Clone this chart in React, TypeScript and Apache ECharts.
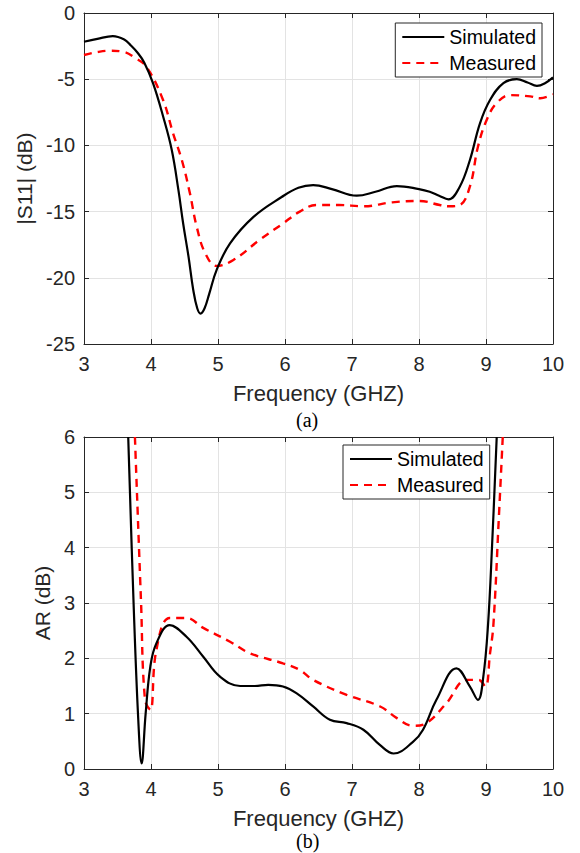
import React, { useEffect, useRef } from "react";
import * as echarts from "echarts";

// (a) |S11|
const s11SimFreq = [3, 3.2, 3.43, 3.6, 3.7, 3.8, 3.9, 4.03, 4.18, 4.31, 4.41, 4.48, 4.56, 4.63, 4.69, 4.74, 4.8, 4.87, 4.98, 5.18, 5.53, 5.95, 6.2, 6.42, 6.7, 7.07, 7.35, 7.67, 8.0, 8.16, 8.3, 8.44, 8.61, 8.76, 8.91, 9.06, 9.26, 9.46, 9.62, 9.76, 9.88, 10];
const s11SimVal = [-2.17, -1.95, -1.74, -2.0, -2.45, -3.0, -3.75, -5.3, -7.8, -10.35, -13.4, -15.9, -18.4, -20.9, -22.3, -22.7, -22.3, -21.2, -19.4, -17.4, -15.4, -13.9, -13.2, -13.0, -13.3, -13.8, -13.5, -13.07, -13.3, -13.5, -13.8, -14.07, -13.1, -11.1, -8.33, -6.57, -5.3, -5.0, -5.25, -5.5, -5.3, -4.86];
const s11MeasFreq = [3, 3.2, 3.39, 3.6, 3.75, 3.93, 4.18, 4.33, 4.46, 4.58, 4.68, 4.81, 4.98, 5.23, 5.63, 5.97, 6.22, 6.47, 6.8, 7.17, 7.6, 8.01, 8.31, 8.45, 8.61, 8.76, 8.88, 9.01, 9.16, 9.36, 9.66, 9.81, 10];
const s11MeasVal = [-3.17, -2.95, -2.85, -2.95, -3.35, -4.05, -6.57, -9.1, -11.1, -13.6, -16.1, -18.15, -19.1, -18.66, -17.1, -15.9, -15.0, -14.5, -14.5, -14.6, -14.3, -14.2, -14.5, -14.6, -14.5, -13.1, -10.1, -8.08, -6.8, -6.2, -6.3, -6.44, -6.14];

// (b) AR
const arSimFreq = [3.66, 3.74, 3.81, 3.86, 3.92, 3.99, 4.08, 4.28, 4.53, 4.78, 5.03, 5.33, 5.55, 5.75, 5.97, 6.17, 6.42, 6.67, 6.92, 7.17, 7.42, 7.62, 7.91, 8.06, 8.26, 8.56, 8.76, 8.88, 8.96, 9.03, 9.09, 9.16];
const arSimVal = [6, 3.0, 0.89, 0.1, 1.0, 1.85, 2.27, 2.6, 2.39, 2.03, 1.67, 1.5, 1.5, 1.52, 1.49, 1.37, 1.13, 0.89, 0.83, 0.71, 0.43, 0.28, 0.49, 0.71, 1.25, 1.82, 1.49, 1.25, 1.67, 2.6, 4.02, 6];
const arMeasFreq = [3.76, 3.85, 3.91, 3.99, 4.08, 4.28, 4.53, 4.78, 5.18, 5.48, 5.97, 6.22, 6.42, 6.92, 7.42, 7.67, 7.91, 8.11, 8.41, 8.71, 8.89, 8.99, 9.06, 9.11, 9.19, 9.25];
const arMeasVal = [6, 3.06, 1.25, 1.07, 2.15, 2.73, 2.73, 2.55, 2.3, 2.09, 1.91, 1.79, 1.61, 1.34, 1.13, 0.92, 0.78, 0.83, 1.19, 1.61, 1.61, 1.49, 2.09, 2.6, 4.5, 6];

const xTicks = { min: 3, max: 10, interval: 1 };
const s11Ticks = { min: -25, max: 0, interval: 5 };
const arTicks = { min: 0, max: 6, interval: 1 };

const pair = (xs: number[], ys: number[]) => xs.map((x, i) => [x, ys[i]]);

const TXT = "#262626";
const FONT = "Liberation Sans";

export default function App() {
  const ref = useRef<HTMLDivElement>(null);
  useEffect(() => {
    document.body.style.margin = "0";
    const chart = echarts.init(ref.current!, null, { renderer: "svg" });
    const grids = [
      { left: 84, top: 13, width: 469, height: 331 },
      { left: 84, top: 437, width: 469, height: 332 },
    ];
    const mkX = (gi: number, pos: "bottom" | "top") => ({
      type: "value",
      gridIndex: gi,
      position: pos,
      ...xTicks,
      axisLine: { show: true, onZero: false, lineStyle: { color: TXT, width: 1 } },
      axisTick: { show: true, inside: true, length: 5, lineStyle: { color: TXT } },
      axisLabel: pos === "bottom" ? { show: true, color: TXT, fontSize: 20, fontFamily: FONT, margin: 10 } : { show: false },
      splitLine: { show: pos === "bottom", lineStyle: { color: "#e3e3e3", width: 1 } },
      name: pos === "bottom" ? "Frequency (GHZ)" : "",
      nameLocation: "middle",
      nameGap: 38,
      nameTextStyle: { color: TXT, fontSize: 22, fontFamily: FONT },
    });
    const mkY = (gi: number, pos: "left" | "right", ticks: any, name: string, gap: number) => ({
      type: "value",
      gridIndex: gi,
      position: pos,
      ...ticks,
      axisLine: { show: true, onZero: false, lineStyle: { color: TXT, width: 1 } },
      axisTick: { show: true, inside: true, length: 5, lineStyle: { color: TXT } },
      axisLabel: pos === "left" ? { show: true, color: TXT, fontSize: 20, fontFamily: FONT, margin: 9 } : { show: false },
      splitLine: { show: pos === "left", lineStyle: { color: "#e3e3e3", width: 1 } },
      name: pos === "left" ? name : "",
      nameLocation: "middle",
      nameGap: gap,
      nameTextStyle: { color: TXT, fontSize: 21, fontFamily: FONT },
    });
    const simStyle = { color: "#000000", width: 2.2, type: "solid" };
    const measStyle = { color: "#ff0000", width: 2.4, type: [8, 6] };
    const mkSeries = (name: string, xi: number, yi: number, data: number[][], ls: any) => ({
      name,
      type: "line",
      xAxisIndex: xi,
      yAxisIndex: yi,
      data,
      smooth: 0.4,
      symbol: "none",
      showSymbol: false,
      clip: true,
      lineStyle: ls,
      itemStyle: { color: ls.color },
      z: name === "Simulated" ? 3 : 2,
    });
    const legendBase = {
      orient: "vertical",
      selectedMode: false,
      data: ["Simulated", "Measured"],
      itemWidth: 42,
      itemHeight: 14,
      itemGap: 6,
      itemStyle: { opacity: 0 },
      backgroundColor: "#ffffff",
      borderColor: "#262626",
      borderWidth: 1,
      borderRadius: 0,
      padding: [4, 6, 4, 6],
      textStyle: { color: "#000", fontSize: 19.5, fontFamily: FONT },
    };
    chart.setOption({
      animation: false,
      backgroundColor: "#ffffff",
      grid: grids.map((g) => ({ ...g, show: false, containLabel: false })),
      xAxis: [mkX(0, "bottom"), mkX(0, "top"), mkX(1, "bottom"), mkX(1, "top")],
      yAxis: [
        mkY(0, "left", s11Ticks, "|S11| (dB)", 45),
        mkY(0, "right", s11Ticks, "", 0),
        mkY(1, "left", arTicks, "AR (dB)", 24),
        mkY(1, "right", arTicks, "", 0),
      ],
      legend: [
        { ...legendBase, right: 38, top: 23 },
        { ...legendBase, left: 343, top: 445 },
      ],
      series: [
        mkSeries("Simulated", 0, 0, pair(s11SimFreq, s11SimVal), simStyle),
        mkSeries("Measured", 0, 0, pair(s11MeasFreq, s11MeasVal), measStyle),
        mkSeries("Simulated", 2, 2, pair(arSimFreq, arSimVal), simStyle),
        mkSeries("Measured", 2, 2, pair(arMeasFreq, arMeasVal), measStyle),
      ],
      graphic: [
        { type: "text", left: 296, top: 410, style: { text: "(a)", fill: "#000", font: '20px "Liberation Serif"' } },
        { type: "text", left: 296, top: 831, style: { text: "(b)", fill: "#000", font: '20px "Liberation Serif"' } },
      ],
    });
    return () => chart.dispose();
  }, []);
  return <div ref={ref} style={{ width: 580, height: 853 }} />;
}
